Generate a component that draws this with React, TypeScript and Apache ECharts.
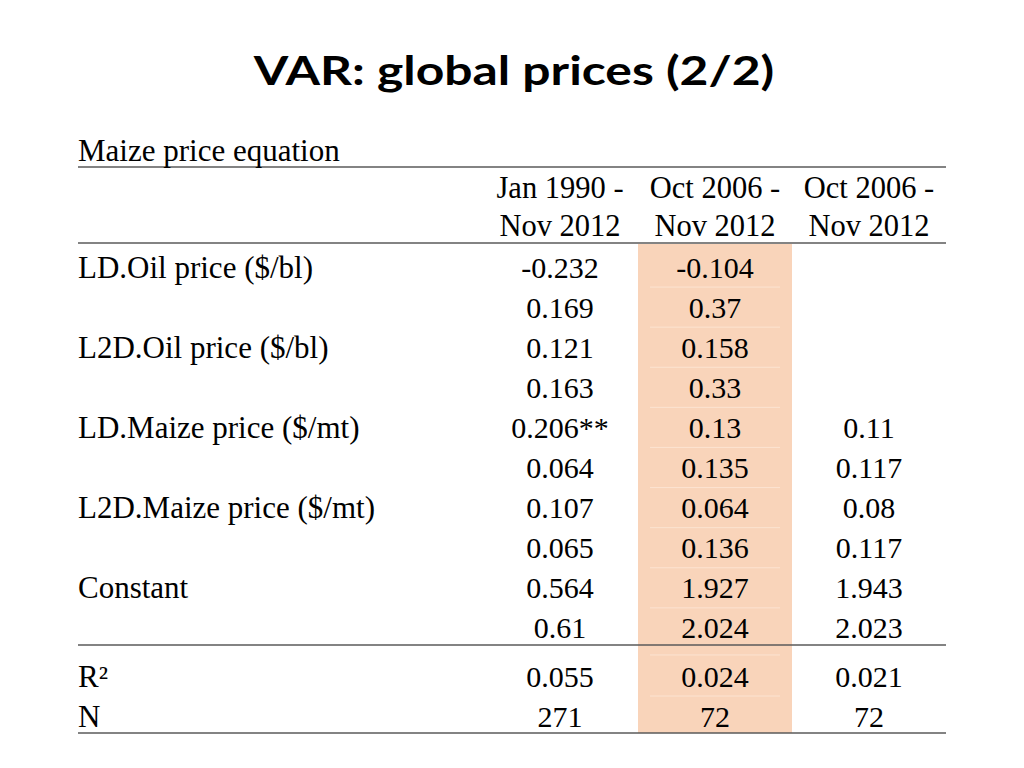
import React, { useEffect, useRef } from "react";
import * as echarts from "echarts";

// ---- data ----
const titleText = "VAR: global prices (2/2)";
const tableCaption = "Maize price equation";
const columnHeaders: string[][] = [
  ["Jan 1990 -", "Nov 2012"],
  ["Oct 2006 -", "Nov 2012"],
  ["Oct 2006 -", "Nov 2012"],
];
const rowLabels = [
  "LD.Oil price ($/bl)",
  "",
  "L2D.Oil price ($/bl)",
  "",
  "LD.Maize price ($/mt)",
  "",
  "L2D.Maize price ($/mt)",
  "",
  "Constant",
  "",
];
const col1Values: (number | null)[] = [-0.232, 0.169, 0.121, 0.163, 0.206, 0.064, 0.107, 0.065, 0.564, 0.61];
const col1Stars: string[] = ["", "", "", "", "**", "", "", "", "", ""];
const col2Values: (number | null)[] = [-0.104, 0.37, 0.158, 0.33, 0.13, 0.135, 0.064, 0.136, 1.927, 2.024];
const col3Values: (number | null)[] = [null, null, null, null, 0.11, 0.117, 0.08, 0.117, 1.943, 2.023];
const statLabels = ["R²", "N"];
const r2Values = [0.055, 0.024, 0.021];
const nValues = [271, 72, 72];
const highlightedColumn = 1; // 0-based index of shaded column

// ---- layout ----
const W = 1024;
const H = 768;
const labelX = 78;
const tableRight = 946;
const colCenters = [560, 715, 869];
const colHalfWidth = 77;
const captionY = 150;
const headerY = [188, 226];
const firstRowY = 267;
const rowStep = 40.1;
const statRowY = [676, 716];
const lineYs = [167, 243, 645, 733];
const shadeTop = 244;
const shadeBottom = 733;
const serif = "'Liberation Serif', 'Times New Roman', serif";
const numFontSize = 30;
const labelFontSize = 31;

type Cell = { x: number; y: number; text: string; align: "left" | "center"; size: number };

function buildCells(): Cell[] {
  const cells: Cell[] = [];
  cells.push({ x: labelX, y: captionY, text: tableCaption, align: "left", size: labelFontSize });
  columnHeaders.forEach((lines, c) => {
    lines.forEach((t, i) =>
      cells.push({ x: colCenters[c], y: headerY[i], text: t, align: "center", size: 30.5 })
    );
  });
  const cols = [col1Values, col2Values, col3Values];
  rowLabels.forEach((lab, r) => {
    const y = firstRowY + r * rowStep;
    if (lab) cells.push({ x: labelX, y, text: lab, align: "left", size: labelFontSize });
    cols.forEach((vals, c) => {
      const v = vals[r];
      if (v === null || v === undefined) return;
      const stars = c === 0 ? col1Stars[r] : "";
      cells.push({ x: colCenters[c], y, text: String(v) + stars, align: "center", size: numFontSize });
    });
  });
  const stats = [r2Values, nValues];
  statLabels.forEach((lab, s) => {
    const y = statRowY[s];
    cells.push({ x: labelX, y, text: lab, align: "left", size: labelFontSize });
    stats[s].forEach((v, c) =>
      cells.push({ x: colCenters[c], y, text: String(v), align: "center", size: numFontSize })
    );
  });
  return cells;
}

export default function App() {
  const ref = useRef<HTMLDivElement>(null);
  useEffect(() => {
    if (!ref.current) return;
    const chart = echarts.init(ref.current, undefined, { renderer: "svg" });
    const cells = buildCells();
    const allRowYs = [...rowLabels.map((_, r) => firstRowY + r * rowStep), ...statRowY];
    const sepYs: number[] = [];
    for (let i = 0; i < allRowYs.length - 1; i++) {
      if (i === rowLabels.length - 1) continue;
      sepYs.push((allRowYs[i] + allRowYs[i + 1]) / 2);
    }
    sepYs.push((allRowYs[rowLabels.length - 1] + statRowY[0]) / 2 + 3);

    const option: any = {
      animation: false,
      backgroundColor: "#ffffff",
      graphic: [
        {
          type: "text",
          x: 514,
          y: 70,
          scaleX: 1.245,
          scaleY: 1,
          style: {
            text: titleText,
            font: "bold 40px Lato, 'Open Sans', sans-serif",
            fill: "#000000",
            align: "center",
            verticalAlign: "middle",
          },
        },
      ],
      grid: { left: 0, right: 0, top: 0, bottom: 0, containLabel: false },
      xAxis: { type: "value", min: 0, max: W, show: false },
      yAxis: { type: "value", min: 0, max: H, inverse: true, show: false },
      series: [
        {
          type: "custom",
          name: "shade",
          silent: true,
          data: [[colCenters[highlightedColumn], shadeTop, shadeBottom]],
          renderItem: (params: any, api: any) => {
            const p0 = api.coord([api.value(0) - colHalfWidth, api.value(1)]);
            const p1 = api.coord([api.value(0) + colHalfWidth, api.value(2)]);
            const children: any[] = [
              {
                type: "rect",
                shape: { x: p0[0], y: p0[1], width: p1[0] - p0[0], height: p1[1] - p0[1] },
                style: { fill: "#F9D4BA" },
              },
            ];
            sepYs.forEach((sy) => {
              const a = api.coord([api.value(0) - colHalfWidth + 12, sy]);
              const b = api.coord([api.value(0) + colHalfWidth - 12, sy]);
              children.push({
                type: "line",
                shape: { x1: a[0], y1: a[1], x2: b[0], y2: b[1] },
                style: { stroke: "#FCE3D1", lineWidth: 1 },
              });
            });
            return { type: "group", children };
          },
          z: 1,
        },
        {
          type: "custom",
          name: "rules",
          silent: true,
          data: lineYs.map((y) => [labelX, tableRight, y]),
          renderItem: (params: any, api: any) => {
            const a = api.coord([api.value(0), api.value(2)]);
            const b = api.coord([api.value(1), api.value(2)]);
            return {
              type: "line",
              shape: { x1: a[0], y1: a[1], x2: b[0], y2: b[1] },
              style: { stroke: "#5a5a5a", lineWidth: 1.5 },
            };
          },
          z: 2,
        },
        {
          type: "custom",
          name: "cells",
          silent: true,
          data: cells.map((c) => [c.x, c.y]),
          renderItem: (params: any, api: any) => {
            const cell = cells[params.dataIndex];
            const p = api.coord([api.value(0), api.value(1)]);
            return {
              type: "text",
              x: p[0],
              y: p[1],
              style: {
                text: cell.text,
                fill: "#000000",
                font: `${cell.size}px ${serif}`,
                align: cell.align,
                verticalAlign: "middle",
              },
            };
          },
          z: 3,
        },
      ],
    };
    chart.setOption(option);
    return () => chart.dispose();
  }, []);
  return (
    <div
      ref={ref}
      style={{ position: "fixed", left: 0, top: 0, width: W, height: H, background: "#fff" }}
    />
  );
}
